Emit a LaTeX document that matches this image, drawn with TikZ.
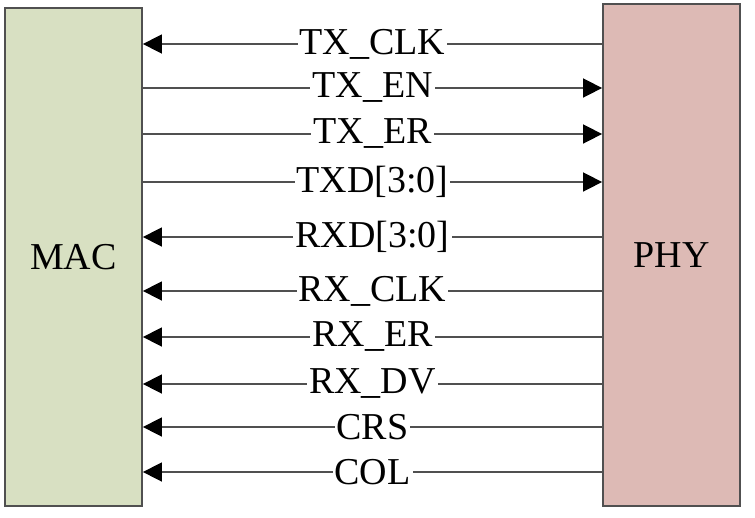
\documentclass[tikz,border=0pt]{standalone}
\usepackage{fontspec}
\setmainfont{Liberation Serif}
\usetikzlibrary{arrows.meta}
\definecolor{macgreen}{RGB}{216,224,194}
\definecolor{phyred}{RGB}{221,186,181}
\definecolor{wiregray}{RGB}{80,80,80}

\tikzset{
  block/.style={draw=wiregray, line width=1.8pt, minimum width=137pt, inner sep=0pt},
  wire/.style={draw=wiregray, line width=1.6pt},
  tomac/.style={{Triangle[length=19pt,width=19pt,fill=black,color=black]}-},
  tophy/.style={-{Triangle[length=19pt,width=19pt,fill=black,color=black]}},
  sig/.style={fill=white, inner xsep=2pt, inner ysep=1pt}
}

\begin{document}
\begin{tikzpicture}[x=1pt, y=-1pt, every node/.style={font=\fontsize{38}{42}\selectfont}]
  \useasboundingbox (0,0) rectangle (755,517);
  \node[block, fill=macgreen, minimum height=498pt] (mac) at (73.5,257) {MAC};
  \node[block, fill=phyred, minimum height=502pt] (phy) at (671.5,255) {PHY};
  % signals between MAC and PHY
  \foreach \y/\name/\dir in {44/TX\_CLK/tomac, 88/TX\_EN/tophy, 134/TX\_ER/tophy,
      182/TXD[3:0]/tophy, 237/RXD[3:0]/tomac, 291/RX\_CLK/tomac,
      337/RX\_ER/tomac, 384/RX\_DV/tomac, 427/CRS/tomac, 472/COL/tomac}
    \draw[wire, \dir] (mac.east |- 0,\y) -- node[sig] {\name} (phy.west |- 0,\y);
\end{tikzpicture}
\end{document}
